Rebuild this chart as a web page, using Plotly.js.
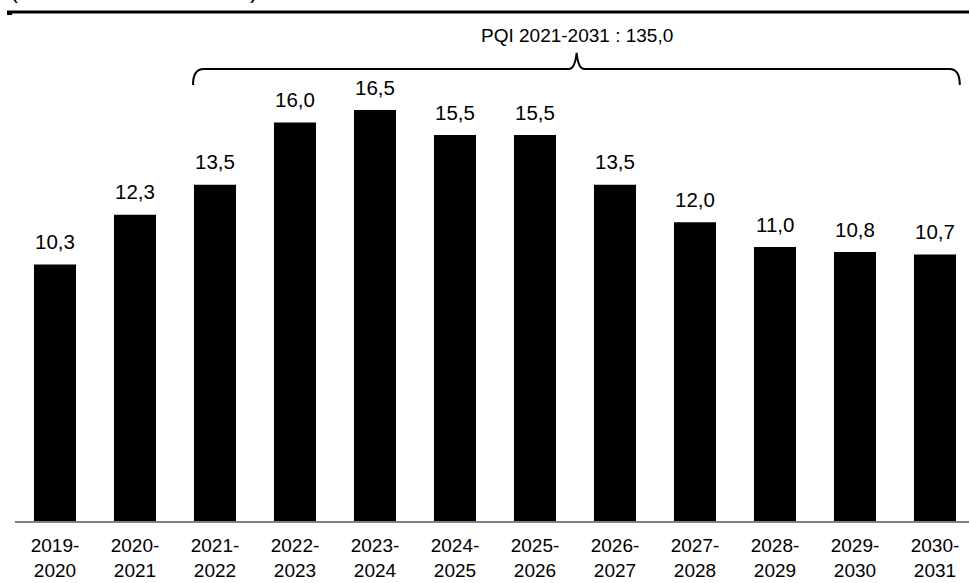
<!DOCTYPE html>
<html>
<head>
<meta charset="utf-8">
<script src="https://cdn.plot.ly/plotly-3.0.1.min.js"></script>
<style>html,body{margin:0;padding:0;background:#fff;}#chart{width:969px;height:583px;}</style>
</head>
<body>
<div id="chart"></div>
<script>
var categories = ["2019-<br>2020","2020-<br>2021","2021-<br>2022","2022-<br>2023","2023-<br>2024","2024-<br>2025","2025-<br>2026","2026-<br>2027","2027-<br>2028","2028-<br>2029","2029-<br>2030","2030-<br>2031"];
var values = [10.3, 12.3, 13.5, 16.0, 16.5, 15.5, 15.5, 13.5, 12.0, 11.0, 10.8, 10.7];
var braceLabel = "PQI 2021-2031 : 135,0";
var unitLabel = "(en milliards de dollars)";

var FONT = "Liberation Sans, Arial, sans-serif";

function fmt(v){ return v.toFixed(1).replace('.', ','); }

var annotations = values.map(function(v, i){
  return {x: categories[i], y: v, xref: 'x', yref: 'y', text: fmt(v), showarrow: false,
    yanchor: 'middle', yshift: 23, font: {family: FONT, size: 20.5, color: '#000'}};
});
annotations.push({x: 6.52, y: 19.48, xref: 'x', yref: 'y', text: braceLabel, showarrow: false,
  yanchor: 'middle', xanchor: 'center', font: {family: FONT, size: 19, color: '#000'}});
annotations.push({x: -0.006, y: 1.0217, xref: 'paper', yref: 'paper', text: unitLabel, showarrow: false,
  xanchor: 'left', yanchor: 'bottom', borderpad: 0, font: {family: FONT, size: 24, color: '#000'}});

var bracePath = 'M 1.725,17.51 Q 1.725,18.15 1.86,18.15 L 6.42,18.15 Q 6.5,18.15 6.52,18.8 Q 6.54,18.15 6.62,18.15 L 11.18,18.15 Q 11.31,18.15 11.31,17.51';

var layout = {
  width: 969, height: 583,
  margin: {l: 15, r: 0, t: 15, b: 62, pad: 0},
  paper_bgcolor: '#fff', plot_bgcolor: '#fff',
  showlegend: false,
  bargap: 0.475,
  xaxis: {type: 'category', range: [-0.5, 11.425], showgrid: false, zeroline: false,
    showline: true, linecolor: '#808080', linewidth: 1.5, ticks: '', ticklabelstandoff: 7,
    tickfont: {family: FONT, size: 19, color: '#000'}, fixedrange: true},
  yaxis: {range: [0, 20.32], showgrid: false, zeroline: false, showline: false,
    showticklabels: false, ticks: '', fixedrange: true},
  annotations: annotations,
  shapes: [
    {type: 'path', xref: 'x', yref: 'y', path: bracePath, line: {color: '#000', width: 2}},
    {type: 'line', xref: 'paper', yref: 'paper', x0: -0.0084, x1: 1, y0: 1.006, y1: 1.006, line: {color: '#000', width: 3}},
    {type: 'rect', xref: 'paper', yref: 'paper', x0: -0.0084, x1: -0.003, y0: 1.0, y1: 1.006, fillcolor: '#000', line: {width: 0}}
  ]
};

var trace = {type: 'bar', x: categories, y: values, marker: {color: '#000', line: {color: '#000', width: 0}},
  hoverinfo: 'skip'};

Plotly.newPlot('chart', [trace], layout, {displayModeBar: false, staticPlot: true});
</script>
</body>
</html>
